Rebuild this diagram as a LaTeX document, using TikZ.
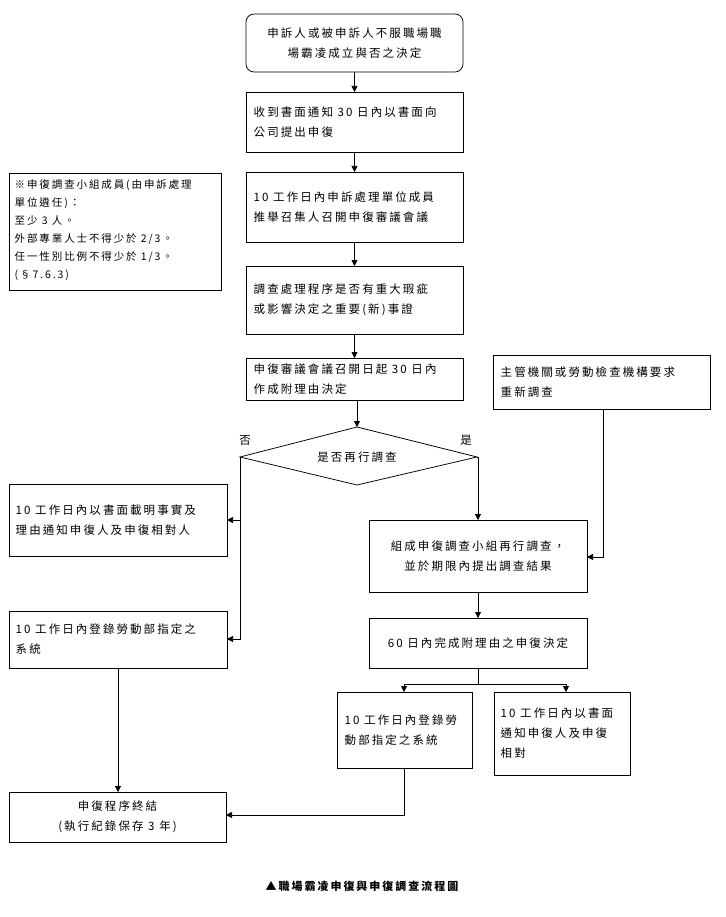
\documentclass[tikz,border=0pt]{standalone}
\usepackage{fontspec}
\setmainfont{Noto Sans CJK TC}[LetterSpace=18]
\usetikzlibrary{shapes.geometric,arrows.meta}
\tikzset{every picture/.style={line width=0.75pt}}
\begin{document}
\begin{tikzpicture}[x=1pt,y=1pt,yscale=-1,
  box/.style={draw,align=left,inner sep=4pt,font=\fontsize{11.5}{20}\selectfont},
  arr/.style={-{Triangle[length=6pt,width=6pt]}}]
    \useasboundingbox (0,0) rectangle (725,917);

    % main column
    \draw [rounded corners=8pt] (246,14) rectangle (463,72);
    \node (start) [align=center,font=\fontsize{11.5}{20}\selectfont] at (354.5,43) {申訴人或被申訴人不服職場職\\場霸凌成立與否之決定};
    \draw (246,92) rectangle (463,152);
    \node (recv) [align=left,font=\fontsize{11.5}{20}\selectfont,anchor=west] at (250,122) {收到書面通知 30 日內以書面向\\公司提出申復};
    \draw (246,172) rectangle (463,242);
    \node (meet) [align=left,font=\fontsize{11.5}{20}\selectfont,anchor=west] at (250,207) {10 工作日內申訴處理單位成員\\推舉召集人召開申復審議會議};
    \draw (246,266) rectangle (463,334);
    \node (check) [align=left,font=\fontsize{11.5}{20}\selectfont,anchor=west] at (250,300) {調查處理程序是否有重大瑕疵\\或影響決定之重要(新)事證};
    \draw (246,358) rectangle (463,400);
    \node (decide) [align=left,font=\fontsize{11.5}{20}\selectfont,anchor=west] at (250,379) {申復審議會議召開日起 30 日內\\作成附理由決定};

    % note
    \draw (9,173) rectangle (221,290);
    \node (note) [align=left,font=\fontsize{10.5}{18}\selectfont,anchor=north west] at (11,176) {※申復調查小組成員(由申訴處理\\單位遴任)：\\至少 3 人。\\外部專業人士不得少於 2/3。\\任一性別比例不得少於 1/3。\\(§7.6.3)};

    % diamond
    \draw (240,457) -- (357,427) -- (477,457) -- (357,485) -- cycle;
    \node (again) [font=\fontsize{11.5}{20}\selectfont] at (357,457) {是否再行調查};
    \coordinate (dl) at (240,457);
    \coordinate (dr) at (477,457);
    \node [font=\fontsize{11.5}{20}\selectfont] at (245,440) {否};
    \node [font=\fontsize{11.5}{20}\selectfont] at (466,440) {是};

    % outside request
    \draw (493,355) rectangle (710,409);
    \node (auth) [align=left,font=\fontsize{11.5}{20}\selectfont,anchor=west] at (497,382) {主管機關或勞動檢查機構要求\\重新調查};

    % left branch
    \draw (9,484) rectangle (227,556);
    \node (notify) [align=left,font=\fontsize{11.5}{20}\selectfont,anchor=west] at (12,520) {10 工作日內以書面載明事實及\\理由通知申復人及申復相對人};
    \draw (9,611) rectangle (227,668);
    \node (regl) [align=left,font=\fontsize{11.5}{20}\selectfont,anchor=west] at (12,639) {10 工作日內登錄勞動部指定之\\系統};
    \draw (9,792) rectangle (226,842);
    \node (endp) [align=center,font=\fontsize{11.5}{20}\selectfont] at (117.5,817) {申復程序終結\\(執行紀錄保存 3 年)};

    % right branch
    \draw (369,520) rectangle (587,592);
    \node (team) [align=center,font=\fontsize{11.5}{20}\selectfont] at (478,556) {組成申復調查小組再行調查，\\並於期限內提出調查結果};
    \draw (369,618) rectangle (587,668);
    \node (sixty) [font=\fontsize{11.5}{20}\selectfont] at (478,643) {60 日內完成附理由之申復決定};
    \draw (337,692) rectangle (472,768);
    \node (regr) [align=left,font=\fontsize{11.5}{20}\selectfont,anchor=west] at (341,730) {10 工作日內登錄勞\\動部指定之系統};
    \draw (494,692) rectangle (630,775);
    \node (inform) [align=left,font=\fontsize{11.5}{20}\selectfont,anchor=west] at (497,733) {10 工作日內以書面\\通知申復人及申復\\相對};

    % connectors
    \draw [arr] (354.5,72) -- (354.5,92);
    \draw [arr] (354.5,152) -- (354.5,172);
    \draw [arr] (354.5,242) -- (354.5,266);
    \draw [arr] (354.5,334) -- (354.5,358);
    \draw [arr] (357,400) -- (357,427);
    \draw [arr] (dl) -- (240,457) -- (240,520) -- (227,520);
    \draw [arr] (240,520) -- (240,639) -- (227,639);
    \draw [arr] (dr) -- (478,457) -- (478,520);
    \draw [arr] (603,409) -- (603,557) -- (587,557);
    \draw [arr] (478,592) -- (478,618);
    \draw (478,668) -- (478,684);
    \draw (404,684) -- (566,684);
    \draw [arr] (404,684) -- (404,692);
    \draw [arr] (566,684) -- (566,692);
    \draw [arr] (118,668) -- (118,792);
    \draw [arr] (404,768) -- (404,815) -- (226,815);

    % caption
    \node (caption) [font=\bfseries\fontsize{11}{14}\selectfont] at (362,886) {▲職場霸凌申復與申復調查流程圖};
\end{tikzpicture}
\end{document}
